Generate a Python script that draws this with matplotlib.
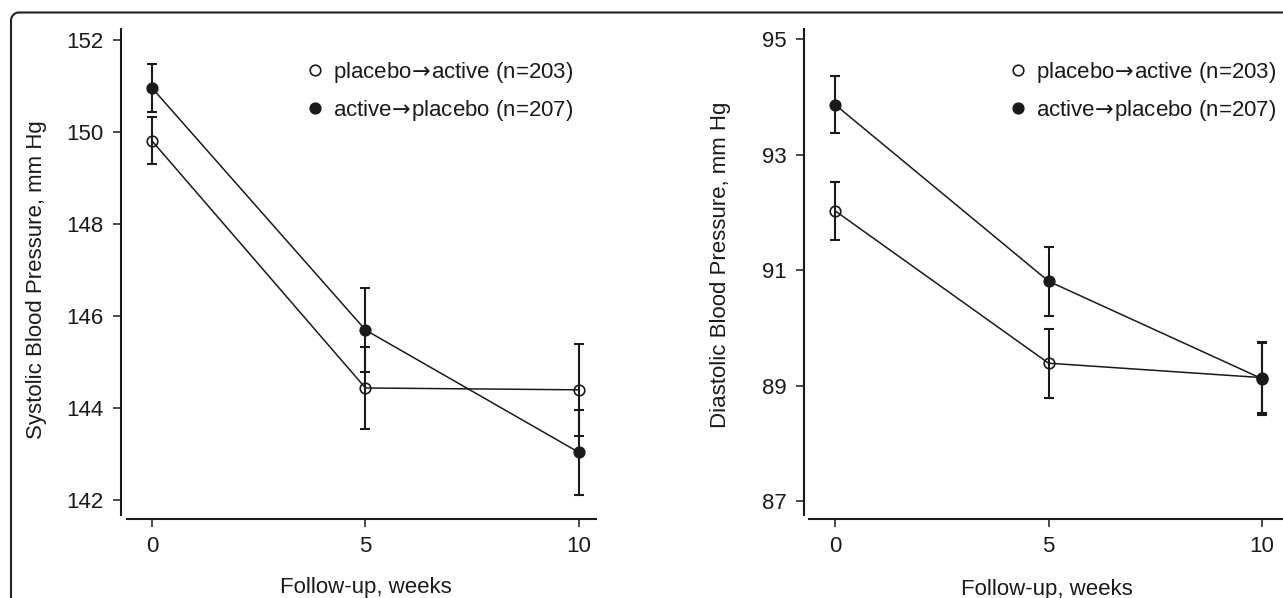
import numpy as np
import matplotlib
matplotlib.use("Agg")
import matplotlib.pyplot as plt

plt.rcParams['font.family'] = ['Liberation Sans', 'DejaVu Sans']
plt.rcParams['mathtext.fontset'] = 'dejavusans'

# ---- data ----
weeks = [0, 5, 10]
week_ticks = [0, 5, 10]

sbp_placebo_active = [149.80, 144.43, 144.39]
sbp_placebo_active_ci = [0.51, 0.90, 1.00]
sbp_active_placebo = [150.95, 145.69, 143.03]
sbp_active_placebo_ci = [0.52, 0.92, 0.93]

dbp_placebo_active = [92.03, 89.39, 89.14]
dbp_placebo_active_ci = [0.50, 0.60, 0.62]
dbp_active_placebo = [93.87, 90.81, 89.12]
dbp_active_placebo_ci = [0.49, 0.60, 0.62]

sbp_ticks = [142, 144, 146, 148, 150, 152]
dbp_ticks = [87, 89, 91, 93, 95]

label_pa = r"placebo$\!\rightarrow\!$active (n=203)"
label_ap = r"active$\!\rightarrow\!$placebo (n=207)"
xlabel = "Follow-up, weeks"
ylabel_sbp = "Systolic Blood Pressure, mm Hg"
ylabel_dbp = "Diastolic Blood Pressure, mm Hg"

# ---- style ----
INK = '#1a1a1a'
FS = 16
W, H = 1283, 598
fig = plt.figure(figsize=(W / 100, H / 100), dpi=100)

# rounded frame in pixel coordinates
bg = fig.add_axes([0, 0, 1, 1], zorder=-1)
bg.set_xlim(0, W)
bg.set_ylim(H, 0)
bg.axis('off')
r = 8
x0, y0 = 11, 12.5
t = np.linspace(np.pi, 1.5 * np.pi, 20)
px = np.concatenate([[x0], x0 + r + r * np.cos(t), [W + 20]])
py = np.concatenate([[H + 20], y0 + r + r * np.sin(t), [y0]])
bg.plot(px, py, color='#222222', lw=1.5, clip_on=False, solid_capstyle='butt')


def panel(rect, ylim, xlim, yticks, pa, pa_ci, ap, ap_ci, ylab, ylab_xy, xlab_xy,
          leg_xy, spine_off):
    ax = fig.add_axes(rect)
    ax.set_xlim(*xlim)
    ax.set_ylim(*ylim)
    ax.patch.set_alpha(0)
    for s in ['top', 'right']:
        ax.spines[s].set_visible(False)
    ax.spines['left'].set_position(('outward', spine_off))
    ax.spines['bottom'].set_position(('outward', 2.9))
    for s in ['left', 'bottom']:
        ax.spines[s].set_linewidth(1.5)
        ax.spines[s].set_color(INK)
    ax.set_xticks(week_ticks)
    ax.set_yticks(yticks)
    ax.tick_params(axis='both', length=6, width=1.1, color=INK, labelsize=FS,
                   labelcolor=INK)
    ax.tick_params(axis='y', pad=6.5)
    ax.tick_params(axis='x', pad=6)

    for vals, ci in [(pa, pa_ci), (ap, ap_ci)]:
        ax.errorbar(weeks, vals, yerr=ci, fmt='none', ecolor=INK, elinewidth=1.5,
                    capsize=3.6, capthick=1.5, zorder=2)
        ax.plot(weeks, vals, color=INK, lw=1.1, zorder=2)
    h1, = ax.plot(weeks, pa, 'o', ms=7.6, mfc='none', mec=INK, mew=1.2,
                  zorder=3, label=label_pa)
    h2, = ax.plot(weeks, ap, 'o', ms=7.8, mfc=INK, mec=INK, mew=1.0,
                  zorder=4, label=label_ap)

    leg = ax.legend(handles=[h1, h2], loc='upper left', bbox_to_anchor=leg_xy,
                    frameon=False, fontsize=FS, handlelength=0.4,
                    handletextpad=0.6, labelspacing=0.57, borderpad=0,
                    borderaxespad=0, numpoints=1)
    for tx in leg.get_texts():
        tx.set_color(INK)

    ax.set_ylabel(ylab, fontsize=FS, color=INK)
    ax.yaxis.set_label_coords(*ylab_xy)
    ax.set_xlabel(xlabel, fontsize=FS, color=INK, va='top')
    ax.xaxis.set_label_coords(*xlab_xy)
    return ax


panel([127 / W, 83 / H, 469 / W, 486 / H], (141.67, 152.23), (-0.585, 10.4),
      sbp_ticks, sbp_placebo_active, sbp_placebo_active_ci,
      sbp_active_placebo, sbp_active_placebo_ci, ylabel_sbp,
      (-0.171, 0.4835), (0.5096, -0.127), (0.392, 0.936), 4.3)

panel([809 / W, 83 / H, 474 / W, 486 / H], (86.76, 95.18), (-0.61, 10.49),
      dbp_ticks, dbp_placebo_active, dbp_placebo_active_ci,
      dbp_active_placebo, dbp_active_placebo_ci, ylabel_dbp,
      (-0.1646, 0.514), (0.502, -0.132), (0.432, 0.936), 3.6)

fig.savefig('out.png', dpi=100)
